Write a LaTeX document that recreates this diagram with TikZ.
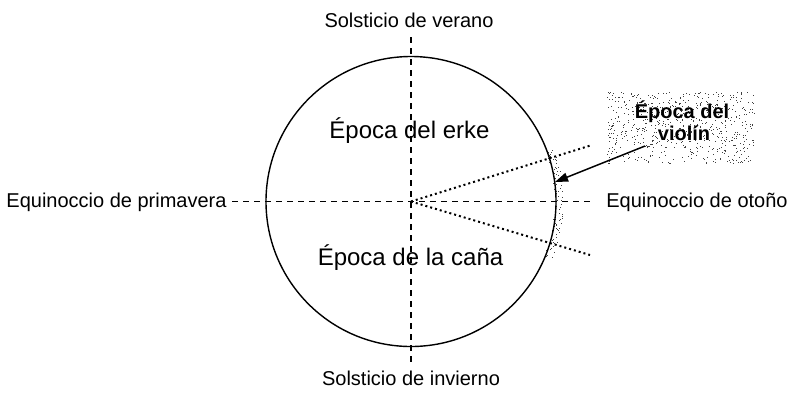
\documentclass[tikz,border=0pt]{standalone}
\usepackage{fontspec}
\setmainfont{Liberation Sans}
\usetikzlibrary{arrows.meta,calc}
\tikzset{
  lbl/.style={font=\fontsize{20}{22}\selectfont, anchor=base, inner sep=0pt},
  biglbl/.style={font=\fontsize{24}{26}\selectfont, anchor=base, inner sep=0pt},
  boxlbl/.style={font=\bfseries\fontsize{20}{22}\selectfont, anchor=base, inner sep=0pt},
  axisline/.style={line width=1.2pt, dash pattern=on 6pt off 5pt},
  dotline/.style={line width=2pt, dash pattern=on 2pt off 3pt},
  speck/.style={fill=black!75},
}
\begin{document}
\begin{tikzpicture}[x=1pt,y=-1pt]
\useasboundingbox (0,0) rectangle (789,392);
\fill[white] (0,0) rectangle (789,392);
\coordinate (c) at (411,201.5);
% speckled box
\pgfmathsetseed{11}
\foreach \i in {1,...,650}{
  \pgfmathsetmacro\rx{607+147*rnd}
  \pgfmathsetmacro\ry{92+71*rnd}
  \fill[speck] (\rx,\ry) rectangle ++(1,1);
}
% speckled band
\foreach \i in {1,...,90}{
  \pgfmathsetmacro\ra{-22+44*rnd}
  \pgfmathsetmacro\rr{143+9*rnd}
  \fill[speck] ($(c)+(\ra:\rr)$) rectangle ++(1,1);
}
% circle
\draw[line width=1.4pt] (c) circle[radius=145];
% axes
\coordinate (vt) at (411,37);
\coordinate (vb) at (411,363);
\coordinate (hl) at (232,201.5);
\coordinate (hr) at (590,201.5);
\draw[axisline] (vt) -- (vb);
\draw[axisline] (hl) -- (hr);
% dotted rays
\coordinate (du) at (592,145);
\coordinate (dl) at (590,255);
\draw[dotline] (c) -- (du);
\draw[dotline] (c) -- (dl);
% labels
\node[lbl] (sv) at (409,27) {Solsticio de verano};
\node[lbl] (si) at (411,385.5) {Solsticio de invierno};
\node[lbl] (ep) at (116.5,207) {Equinoccio de primavera};
\node[lbl] (eo) at (697,207) {Equinoccio de otoño};
\node[biglbl] (erke) at (409.5,138) {Época del erke};
\node[biglbl] (cana) at (410.5,265) {Época de la caña};
% violin box text
\node[boxlbl] (v1) at (682,118) {Época del};
\node[boxlbl] (v2) at (684,140) {violín};
\coordinate (as) at (645,146);
\coordinate (at) at (555,182);
\draw[line width=1.5pt, -{Triangle[length=13pt,width=9pt]}] (as) -- (at);
\end{tikzpicture}
\end{document}
